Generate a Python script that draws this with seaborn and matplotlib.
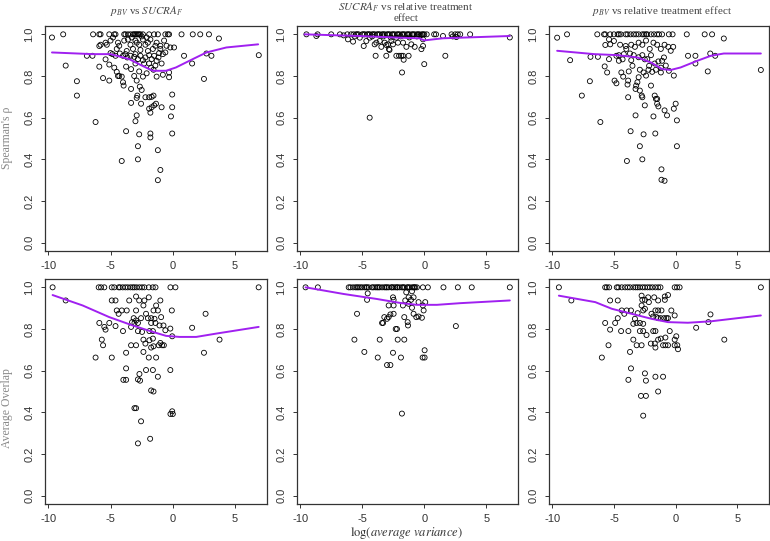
import matplotlib
matplotlib.use("Agg")
import matplotlib.pyplot as plt
import seaborn as sns

# ---------------------------------------------------------------------------
# Data (x = log(average variance))
# ---------------------------------------------------------------------------

# points sitting on the 1.0 line
P1_TOP_X = [-8.8, -6.4, -5.9, -5.8, -5.1, -4.7, -4.6, -3.9, -3.8, -3.6, -3.4, -3.2, -3.1,
            -3.0, -2.9, -2.8, -2.7, -2.6, -2.4, -1.9, -1.5, -1.2, -0.6, -0.4, -0.3, 0.7,
            1.6, 2.2, 2.9]
P1_PTS = [(-9.7, 0.985), (3.7, 0.98), (6.9, 0.90), (-8.6, 0.85), (-7.7, 0.775), (-6.9, 0.897),
          (-6.45, 0.897), (-7.7, 0.706), (-6.2, 0.579), (-5.9, 0.845), (-5.9, 0.944), (-5.6, 0.79),
          (-5.8, 0.95), (-5.4, 0.96), (-5.3, 0.95), (-5.0, 0.97), (-4.4, 0.96), (-4.3, 0.945),
          (-3.9, 0.97), (-3.4, 0.95), (-3.0, 0.97), (-2.7, 0.95), (-2.4, 0.975), (-2.2, 0.95),
          (-1.8, 0.975), (-1.4, 0.945), (-1.0, 0.945), (-0.5, 0.945), (-0.2, 0.937), (0.1, 0.937),
          (-1.0, 0.93), (-5.0, 0.91), (-4.85, 0.905), (-4.6, 0.897), (-4.25, 0.908), (-4.0, 0.897),
          (-3.8, 0.905), (-3.65, 0.889), (-3.4, 0.897), (-3.1, 0.892), (-3.0, 0.905), (-2.8, 0.881),
          (-2.6, 0.897), (-2.4, 0.876), (-2.2, 0.889), (-1.9, 0.9), (-1.7, 0.881), (-1.5, 0.897),
          (-1.3, 0.873), (-1.15, 0.889), (-0.8, 0.905), (-0.6, 0.913), (0.9, 0.897), (3.1, 0.897),
          (2.7, 0.908), (-5.4, 0.88), (-5.1, 0.855), (-4.7, 0.84), (-4.5, 0.82), (-4.3, 0.80),
          (-4.1, 0.797), (-3.75, 0.845), (-3.35, 0.833), (-3.1, 0.80), (-2.7, 0.822), (-2.4, 0.797),
          (-2.1, 0.813), (-1.75, 0.84), (-1.55, 0.83), (-1.3, 0.797), (-0.8, 0.806), (-0.3, 0.817),
          (-0.3, 0.794), (1.55, 0.86), (2.5, 0.786), (-5.1, 0.778), (-4.4, 0.8), (-4.0, 0.77),
          (-3.95, 0.754), (-3.35, 0.738), (-2.9, 0.778), (-2.65, 0.749), (-2.5, 0.733), (-2.85, 0.706),
          (-2.9, 0.695), (-2.2, 0.698), (-1.9, 0.698), (-1.7, 0.70), (-1.55, 0.706), (-0.05, 0.711),
          (-3.35, 0.671), (-2.55, 0.667), (-1.9, 0.643), (-1.7, 0.65), (-1.5, 0.659), (-1.35, 0.667),
          (-0.9, 0.65), (-0.05, 0.65), (-1.8, 0.624), (-2.9, 0.611), (-0.15, 0.606), (-3.0, 0.583),
          (-3.75, 0.535), (-2.7, 0.52), (-1.8, 0.524), (-1.8, 0.505), (-0.05, 0.524), (-2.8, 0.463),
          (-1.2, 0.444), (-4.1, 0.392), (-2.8, 0.40), (-1.0, 0.349), (-1.2, 0.30), (-3.3, 0.985),
          (-2.5, 0.99), (-2.1, 0.985), (-4.8, 0.985), (-3.6, 0.975), (-2.9, 0.96), (-2.0, 0.96),
          (-1.3, 0.96), (-0.7, 0.97), (-3.2, 0.93), (-2.6, 0.925), (-2.0, 0.92), (-1.6, 0.93),
          (-4.5, 0.93), (-3.7, 0.92), (-1.1, 0.91), (-2.3, 0.86), (-1.9, 0.86), (-3.0, 0.86),
          (-1.4, 0.85), (-0.9, 0.86)]
P1_FIT_X = [-9.7, -6.45, -5.0, -3.5, -2.45, -1.6, -0.55, 0.25, 1.6, 2.7, 4.3, 6.85]
P1_FIT_Y = [0.913, 0.905, 0.905, 0.881, 0.849, 0.825, 0.825, 0.841, 0.881, 0.913, 0.937, 0.952]

P2_TOP_X = [-9.5, -8.6, -7.5, -6.8, -6.2, -5.9, -5.7, -5.5, -5.4, -5.3, -5.0, -4.9, -4.8, -4.6,
            -4.5, -4.4, -4.2, -4.1, -4.0, -3.8, -3.7, -3.6, -3.4, -3.3, -3.2, -3.0, -2.9, -2.8,
            -2.6, -2.5, -2.4, -2.2, -2.1, -2.0, -1.8, -1.7, -1.6, -1.4, -1.3, -1.2, -1.0, -0.9,
            -0.8, -0.6, -0.5, -0.4, -0.2, -0.1, 0.0, 0.2, 0.8, 0.95, 2.2, 2.5, 2.7, 2.9, 3.7]
P2_PTS = [(-8.7, 0.992), (-6.15, 0.976), (-5.74, 0.965), (-5.2, 0.984), (-4.88, 0.944), (-4.67, 0.968),
          (-4.4, 0.984), (-4.0, 0.952), (-3.86, 0.96), (-3.59, 0.968), (-3.46, 0.94), (-3.19, 0.96),
          (-3.06, 0.949), (-2.92, 0.952), (-2.84, 0.929), (-2.65, 0.968), (-2.52, 0.952), (-2.25, 0.984),
          (-2.12, 0.96), (-1.71, 0.96), (-1.44, 0.94), (-1.04, 0.952), (-0.77, 0.94), (-0.23, 0.929),
          (-0.1, 0.944), (-0.1, 0.976), (1.51, 0.992), (2.59, 0.987), (6.9, 0.985), (-3.92, 0.897),
          (-3.06, 0.897), (-2.25, 0.897), (-2.03, 0.897), (-1.85, 0.897), (-1.71, 0.897), (-1.26, 0.897),
          (-1.66, 0.878), (-1.79, 0.817), (0.0, 0.857), (1.7, 0.897), (-4.4, 0.60), (-2.8, 0.925),
          (-5.6, 0.99), (-4.2, 0.99), (-3.3, 0.99), (-2.7, 0.985), (-1.9, 0.99), (-1.2, 0.985),
          (-0.6, 0.99), (-0.3, 0.995), (-6.5, 0.995), (2.3, 0.99)]
P2_FIT_X = [-9.65, -5.2, -2.0, -0.4, 0.0, 1.5, 6.9]
P2_FIT_Y = [1.0, 0.992, 0.984, 0.981, 0.971, 0.981, 0.992]

P3_TOP_X = [-8.8, -6.35, -5.8, -5.7, -5.3, -5.0, -4.7, -4.6, -4.45, -4.05, -3.9, -3.65, -3.4,
            -3.2, -3.0, -2.7, -2.55, -2.4, -2.3, -2.0, -1.75, -1.5, -1.35, -1.1, -0.55, -0.25,
            0.9, 2.35, 2.95]
P3_PTS = [(-9.6, 0.984), (3.9, 0.98), (6.9, 0.829), (-8.55, 0.876), (-6.9, 0.892), (-6.3, 0.892),
          (-6.95, 0.775), (-7.6, 0.706), (-6.1, 0.579), (-5.75, 0.846), (-5.55, 0.817), (-5.4, 0.881),
          (-5.7, 0.949), (-5.4, 0.976), (-5.3, 0.952), (-5.0, 0.968), (-4.95, 0.778), (-4.8, 0.765),
          (-4.8, 0.897), (-4.6, 0.873), (-4.4, 0.817), (-4.25, 0.797), (-4.2, 0.905), (-4.05, 0.944),
          (-3.9, 0.759), (-3.85, 0.778), (-3.85, 0.698), (-3.8, 0.822), (-3.7, 0.908), (-3.6, 0.876),
          (-3.5, 0.849), (-3.25, 0.738), (-3.2, 0.754), (-3.1, 0.770), (-3.0, 0.794), (-2.9, 0.73),
          (-2.75, 0.706), (-2.7, 0.698), (-2.6, 0.817), (-2.5, 0.659), (-2.4, 0.802), (-2.3, 0.881),
          (-2.15, 0.849), (-2.0, 0.754), (-1.8, 0.606), (-1.7, 0.706), (-1.6, 0.690), (-1.5, 0.667),
          (-1.4, 0.654), (-1.65, 0.524), (-1.5, 0.69), (-1.2, 0.817), (-1.1, 0.873), (-0.95, 0.889),
          (-0.9, 0.635), (-0.7, 0.611), (-0.55, 0.825), (-0.4, 0.921), (-0.15, 0.802), (-0.15, 0.643),
          (0.0, 0.667), (0.1, 0.587), (0.1, 0.463), (1.0, 0.897), (1.6, 0.897), (1.6, 0.86),
          (2.6, 0.822), (2.8, 0.908), (3.2, 0.897), (-3.25, 0.611), (-3.65, 0.535), (-2.6, 0.52),
          (-2.9, 0.463), (-3.95, 0.392), (-2.7, 0.40), (-1.15, 0.352), (-1.15, 0.302), (-0.9, 0.297),
          (-4.5, 0.95), (-4.0, 0.93), (-3.6, 0.95), (-3.3, 0.94), (-3.0, 0.96), (-2.7, 0.95),
          (-2.4, 0.97), (-2.1, 0.93), (-1.8, 0.96), (-1.5, 0.95), (-1.2, 0.93), (-0.9, 0.95),
          (-0.6, 0.94), (-0.2, 0.94), (-3.4, 0.90), (-3.0, 0.89), (-2.7, 0.90), (-2.5, 0.88),
          (-2.0, 0.90), (-1.7, 0.86), (-1.4, 0.87), (-1.2, 0.84), (-0.8, 0.85), (-2.9, 0.83),
          (-2.2, 0.83), (-1.9, 0.82), (-1.6, 0.83), (-4.6, 0.90), (-4.3, 0.88)]
P3_FIT_X = [-9.6, -6.6, -4.7, -3.1, -2.0, -1.1, -0.4, 0.4, 1.75, 2.85, 3.9, 6.9]
P3_FIT_Y = [0.921, 0.905, 0.9, 0.889, 0.865, 0.833, 0.829, 0.841, 0.873, 0.897, 0.908, 0.908]

P4_TOP_X = [-9.65, -5.95, -5.76, -5.5, -4.9, -4.7, -4.35, -4.24, -4.02, -3.81, -3.62, -3.4,
            -3.22, -3.08, -2.9, -2.68, -2.47, -2.28, -1.93, -1.61, -1.39, -0.19, 0.21, 6.89]
P4_PTS = [(-8.6, 0.937), (-4.9, 0.937), (-4.6, 0.937), (-2.95, 0.956), (-2.7, 0.937), (-2.28, 0.937),
          (-1.93, 0.952), (-1.0, 0.937), (-5.9, 0.829), (-5.5, 0.81), (-5.4, 0.797), (-5.1, 0.829),
          (-4.6, 0.814), (-4.5, 0.889), (-4.35, 0.873), (-4.1, 0.889), (-3.7, 0.889), (-4.0, 0.79),
          (-3.5, 0.937), (-3.35, 0.81), (-3.27, 0.833), (-3.14, 0.852), (-3.08, 0.829), (-2.95, 0.841),
          (-2.8, 0.829), (-2.95, 0.889), (-2.8, 0.79), (-2.55, 0.852), (-2.47, 0.786), (-2.36, 0.913),
          (-2.15, 0.873), (-2.0, 0.852), (-1.88, 0.79), (-1.74, 0.829), (-1.74, 0.852), (-1.6, 0.79),
          (-1.55, 0.889), (-1.47, 0.849), (-1.4, 0.829), (-1.34, 0.913), (-1.2, 0.889), (-1.07, 0.817),
          (-0.94, 0.857), (-0.75, 0.817), (-0.6, 0.794), (-0.2, 0.802), (-0.08, 0.889), (-0.05, 0.765),
          (1.55, 0.806), (2.63, 0.873), (3.75, 0.749), (2.5, 0.686), (-5.7, 0.749), (-5.6, 0.722),
          (-6.2, 0.663), (-4.9, 0.663), (-3.75, 0.686), (-3.35, 0.722), (-2.95, 0.722), (-2.36, 0.749),
          (-2.2, 0.73), (-2.36, 0.69), (-1.88, 0.746), (-1.74, 0.711), (-1.6, 0.754), (-1.55, 0.717),
          (-1.34, 0.663), (-1.13, 0.722), (-1.0, 0.733), (-0.86, 0.722), (-0.72, 0.722), (-1.93, 0.663),
          (-3.75, 0.611), (-3.97, 0.556), (-3.75, 0.556), (-2.68, 0.584), (-2.63, 0.552), (-2.8, 0.558),
          (-2.15, 0.603), (-1.6, 0.603), (-1.2, 0.571), (-0.2, 0.603), (-1.74, 0.505), (-1.55, 0.5),
          (-3.08, 0.42), (-2.95, 0.42), (-2.55, 0.357), (-0.05, 0.405), (-0.19, 0.392), (0.0, 0.392),
          (-2.8, 0.251), (-1.82, 0.273)]
P4_FIT_X = [-9.65, -7.24, -5.1, -3.22, -1.6, -0.54, 0.54, 1.88, 3.49, 6.89]
P4_FIT_Y = [0.963, 0.913, 0.857, 0.817, 0.786, 0.767, 0.762, 0.762, 0.778, 0.81]

P5_TOP_X = [-9.57, -8.58, -6.09, -5.95, -5.74, -5.55, -5.42, -5.3, -5.15, -5.01, -4.83, -4.7,
            -4.61, -4.48, -4.21, -4.1, -3.94, -3.81, -3.7, -3.59, -3.4, -3.22, -3.1, -3.0,
            -2.87, -2.65, -2.6, -2.47, -2.33, -2.2, -2.14, -1.98, -1.8, -1.7, -1.61, -1.39,
            -1.3, -1.18, -0.99, -0.86, -0.8, -0.72, -0.59, -0.11, 0.29, 1.55, 2.71, 3.83, 6.9]
P5_PTS = [(-4.56, 0.971), (-4.61, 0.94), (-2.52, 0.952), (-2.47, 0.94), (-1.45, 0.976), (-0.99, 0.981),
          (-1.26, 0.952), (-0.86, 0.952), (-1.07, 0.94), (-0.46, 0.929), (-0.11, 0.913), (-0.05, 0.889),
          (0.08, 0.929), (-1.53, 0.937), (-1.72, 0.913), (-2.87, 0.913), (-2.47, 0.913), (-1.26, 0.921),
          (-0.99, 0.902), (-5.42, 0.873), (-3.22, 0.857), (-2.87, 0.857), (-2.73, 0.87), (-2.47, 0.873),
          (-3.0, 0.849), (-3.4, 0.829), (-3.32, 0.829), (-2.2, 0.8), (-2.3, 0.8), (-1.61, 0.857),
          (-1.34, 0.833), (-1.31, 0.817), (-0.86, 0.873), (-0.64, 0.857), (-0.46, 0.86), (-0.19, 0.854),
          (-5.63, 0.749), (-4.83, 0.69), (-3.59, 0.749), (-3.75, 0.663), (-3.0, 0.627), (-2.73, 0.627),
          (-2.52, 0.686), (-2.14, 0.749), (-1.88, 0.663), (-1.61, 0.749), (-0.13, 0.663), (0.03, 0.663),
          (0.03, 0.698), (2.55, 0.814), (-1.8, 0.394)]
P5_FIT_X = [-9.57, -6.49, -3.81, -1.93, -0.59, 1.02, 2.9, 6.9]
P5_FIT_Y = [1.0, 0.968, 0.944, 0.925, 0.916, 0.916, 0.924, 0.937]

P6_TOP_X = [-9.46, -5.71, -5.58, -5.39, -4.77, -4.64, -4.37, -4.1, -3.89, -3.7, -3.43, -3.24,
            -3.08, -2.9, -2.68, -2.49, -2.28, -2.09, -1.88, -1.64, -1.42, -1.23, -0.08, 0.11,
            0.32, 6.9]
P6_PTS = [(-8.45, 0.937), (-5.31, 0.937), (-4.69, 0.937), (-2.76, 0.960), (-2.76, 0.913), (-2.7, 0.94),
          (-2.49, 0.94), (-2.23, 0.952), (-2.17, 0.929), (-1.74, 0.952), (-1.42, 0.937), (-0.88, 0.956),
          (-0.62, 0.963), (-0.88, 0.94), (-2.49, 0.897), (-2.63, 0.889), (-4.37, 0.889), (-3.97, 0.889),
          (-3.62, 0.889), (-3.08, 0.876), (-1.64, 0.889), (-1.42, 0.889), (-1.15, 0.889), (-0.35, 0.889),
          (-1.96, 0.873), (-1.82, 0.86), (-1.55, 0.857), (-1.42, 0.852), (-1.21, 0.852), (-0.94, 0.852),
          (-0.75, 0.852), (-0.62, 0.852), (-0.08, 0.865), (-4.16, 0.873), (-4.69, 0.852), (-4.9, 0.829),
          (-5.71, 0.829), (-3.3, 0.849), (-3.16, 0.829), (-2.9, 0.829), (-3.43, 0.825), (-2.63, 0.825),
          (-5.31, 0.797), (-4.42, 0.79), (-3.83, 0.79), (-2.9, 0.79), (-2.63, 0.79), (-2.36, 0.771),
          (-1.82, 0.79), (-1.64, 0.79), (-1.42, 0.749), (-1.21, 0.754), (-0.83, 0.759), (-0.48, 0.79),
          (-0.08, 0.749), (0.05, 0.765), (0.13, 0.722), (0.19, 0.703), (-0.08, 0.722), (-2.01, 0.73),
          (-1.69, 0.73), (-1.64, 0.711), (-1.02, 0.722), (-0.83, 0.722), (-0.62, 0.722), (-3.43, 0.749),
          (-3.16, 0.722), (-2.76, 0.722), (-5.44, 0.722), (-5.98, 0.663), (-3.7, 0.69), (-3.62, 0.611),
          (-3.83, 0.556), (-2.49, 0.587), (-2.41, 0.552), (-1.64, 0.571), (-1.02, 0.571), (-1.42, 0.5),
          (-2.81, 0.479), (-2.41, 0.479), (-2.63, 0.384), (1.66, 0.806), (2.65, 0.833), (2.82, 0.87),
          (3.94, 0.749)]
P6_FIT_X = [-9.46, -6.51, -5.17, -3.57, -1.96, -0.62, 0.99, 2.87, 5.01, 6.9]
P6_FIT_Y = [0.96, 0.929, 0.897, 0.873, 0.849, 0.833, 0.83, 0.837, 0.852, 0.865]

PANELS = [
    (P1_TOP_X, P1_PTS, P1_FIT_X, P1_FIT_Y),
    (P2_TOP_X, P2_PTS, P2_FIT_X, P2_FIT_Y),
    (P3_TOP_X, P3_PTS, P3_FIT_X, P3_FIT_Y),
    (P4_TOP_X, P4_PTS, P4_FIT_X, P4_FIT_Y),
    (P5_TOP_X, P5_PTS, P5_FIT_X, P5_FIT_Y),
    (P6_TOP_X, P6_PTS, P6_FIT_X, P6_FIT_Y),
]

TITLES = [r"$p_{BV}$ vs $SUCRA_F$",
          "$SUCRA_F$ vs relative treatment\neffect",
          r"$p_{BV}$ vs relative treatment effect"]
Y_LABELS = ["Spearman's \u03c1", "Average Overlap"]
X_TICKS = [-10, -5, 0, 5]
Y_TICKS = [0.0, 0.2, 0.4, 0.6, 0.8, 1.0]

# ---------------------------------------------------------------------------
# Layout (pixel boxes of the six plot regions)
# ---------------------------------------------------------------------------
W, H = 770, 541
COLS = [(45, 267), (297, 518), (549, 769)]
ROWS = [(26, 251), (279, 504)]
FIT_COLOR = "#A020F0"
FRAME = "#333333"

sns.set_style("ticks")
plt.rcParams["font.family"] = ["Liberation Sans", "DejaVu Sans"]
plt.rcParams["mathtext.fontset"] = "stix"

fig = plt.figure(figsize=(W / 100, H / 100), dpi=100)

for i, (top_x, pts, fit_x, fit_y) in enumerate(PANELS):
    r, c = divmod(i, 3)
    x0, x1 = COLS[c]
    y0, y1 = ROWS[r]
    ax = fig.add_axes([x0 / W, 1 - y1 / H, (x1 - x0) / W, (y1 - y0) / H])

    xs = top_x + [p[0] for p in pts]
    ys = [1.0] * len(top_x) + [p[1] for p in pts]
    sns.scatterplot(x=xs, y=ys, ax=ax, s=13, marker="o", facecolor="none",
                    edgecolor="black", linewidth=0.6, legend=False, zorder=2)
    sns.lineplot(x=fit_x, y=fit_y, ax=ax, color=FIT_COLOR, lw=1.4, sort=False,
                 estimator=None, zorder=3)

    ax.set_xlim(-10.26, 7.56)
    ax.set_ylim(-0.04, 1.04)
    ax.set_xticks(X_TICKS)
    ax.set_xticklabels([str(t) for t in X_TICKS])
    ax.set_yticks(Y_TICKS)
    ax.set_yticklabels([f"{t:.1f}" for t in Y_TICKS], rotation=90, va="center")
    ax.tick_params(labelsize=8, colors=FRAME, length=3, width=0.7, pad=4.5)
    for sp in ax.spines.values():
        sp.set_visible(True)
        sp.set_color(FRAME)
        sp.set_linewidth(0.9)

# titles
TITLE_POS = [(147, 11), (406, 12), (662, 11)]
for t, (px, py) in zip(TITLES, TITLE_POS):
    fig.text(px / W, 1 - py / H, t, ha="center", va="center", fontsize=8,
             family="Liberation Serif", color="#444444", linespacing=1.05)

# y labels
for lab, py in zip(Y_LABELS, [138, 408]):
    fig.text(7 / W, 1 - py / H, lab, rotation=90, ha="center", va="center",
             fontsize=8.5, family="Liberation Serif", color="#888888")

# x label
fig.text(406 / W, 1 - 533 / H, r"$\log(average\ variance)$", ha="center", va="center",
         fontsize=9, color="#333333")

fig.savefig("out.png", dpi=100)
